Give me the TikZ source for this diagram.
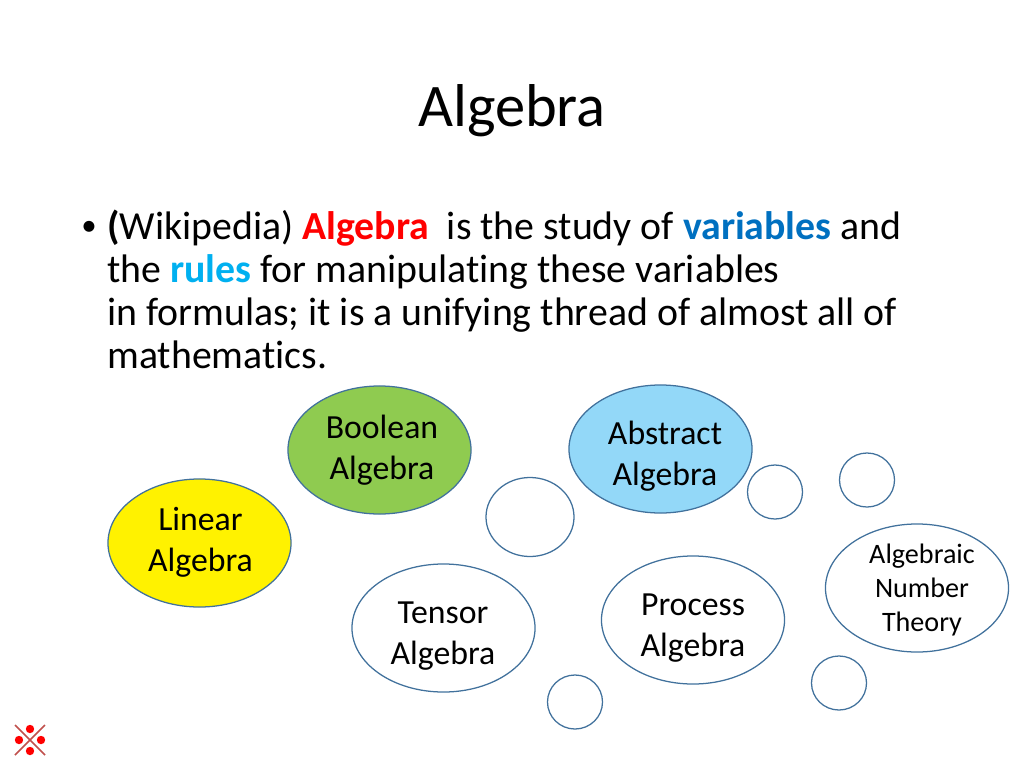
\documentclass[tikz,border=0pt]{standalone}
\usepackage{fontspec}
\usepackage{xcolor}
\usetikzlibrary{shapes.geometric, positioning}
\setmainfont[Ligatures=NoCommon]{Carlito}
\definecolor{edgeblue}{HTML}{41719C}
\definecolor{rulesblue}{HTML}{00B0F0}
\definecolor{varblue}{HTML}{0070C0}
\definecolor{bubblegreen}{HTML}{8FCB50}
\definecolor{bubbleblue}{HTML}{93D8F8}
\definecolor{markred}{HTML}{C0504D}
\tikzset{
    bubble/.style={ellipse, draw=edgeblue, line width=0.9pt, minimum width=4.575cm, minimum height=3.2cm, inner sep=0pt},
    bubbletext/.style={inner sep=0pt, align=center, font=\fontsize{24}{29.1}\selectfont},
    smallbubble/.style={ellipse, draw=edgeblue, line width=0.9pt, minimum width=1.375cm, minimum height=1.35cm, inner sep=0pt},
    bodyline/.style={anchor=base west, inner sep=0pt, font=\fontsize{28.3}{29}\selectfont}
}
\begin{document}
\begin{tikzpicture}[x=0.025cm, y=-0.025cm]
\useasboundingbox (0,0) rectangle (1024,768);
% Title
\node[inner sep=0pt, font=\fontsize{43}{44}\selectfont] (title) at (512,111) {Algebra};
% Body text, one node per line
\node[bodyline, font=\fontsize{22}{29}\selectfont] (bullet) at (81,235) {•};
\node[bodyline] (lineone) at (107,239.5) {\textbf{(}Wikipedia) \textbf{\textcolor{red}{Algebra}}\ \ is the study of \textbf{\textcolor{varblue}{variables}} and};
\node[bodyline] (linetwo) at (107,282.5) {the \textbf{\textcolor{rulesblue}{rules}} for manipulating these variables};
\node[bodyline] (linethree) at (107,325.5) {in formulas; it is a unifying thread of almost all of};
\node[bodyline] (linefour) at (107,368.5) {mathematics.};
% Named bubbles
\node[bubble, fill=bubblegreen] (boolean) at (379.5,450) {};
\node[bubble, fill=bubbleblue] (abstract) at (660.5,449) {};
\node[bubble, fill=yellow] (linear) at (199.5,543) {};
\node[bubble] (tensor) at (443.5,628) {};
\node[bubble] (process) at (693,620) {};
\node[bubble] (number) at (917,588) {};
% Bubble labels
\node[bubbletext] (booleantext) at (382,450) {Boolean\\Algebra};
\node[bubbletext] (abstracttext) at (665,456) {Abstract\\Algebra};
\node[bubbletext] (lineartext) at (200.5,542) {Linear\\Algebra};
\node[bubbletext] (tensortext) at (443,636.5) {Tensor\\Algebra};
\node[bubbletext] (processtext) at (693,628.5) {Process\\Algebra};
\node[bubbletext, font=\fontsize{20}{24.3}\selectfont] (numbertext) at (922,590) {Algebraic\\Number\\Theory};
% Empty bubbles
\node[smallbubble, minimum width=2.2cm, minimum height=1.975cm] (emptybig) at (530,517) {};
\foreach \name/\x/\y in {emptya/775/492, emptyb/867/480, emptyc/575/702, emptyd/839/683} {
    \node[smallbubble] (\name) at (\x,\y) {};
}
% Corner mark
\coordinate (markc) at (30,740);
\draw[markred, line width=1.1pt] (15,725) -- (45,755);
\draw[markred, line width=1.1pt] (45,725) -- (15,755);
\foreach \i in {0,90,...,270} {
    \fill[red] (markc) ++(\i:11) circle (4.2);
}
\end{tikzpicture}
\end{document}
